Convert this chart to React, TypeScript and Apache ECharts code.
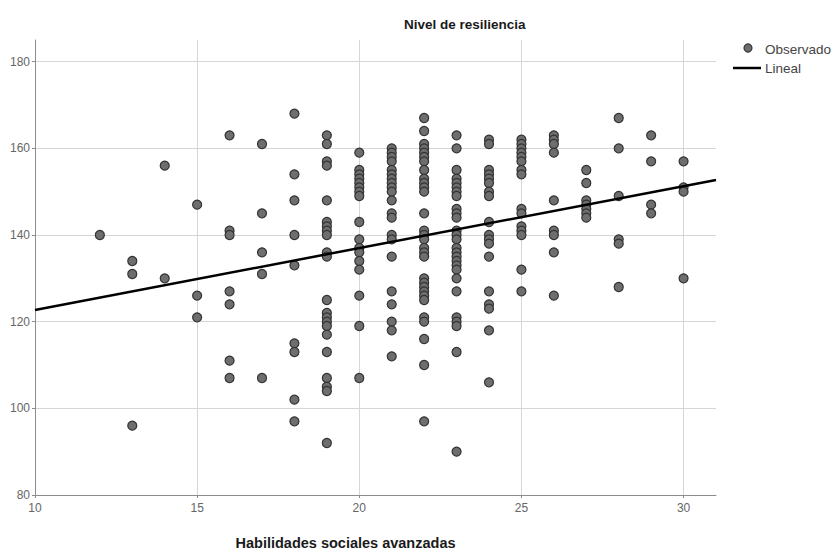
import React, { useEffect, useRef } from "react";
import * as echarts from "echarts";

const chartTitle = "Nivel de resiliencia";
const xAxisTitle = "Habilidades sociales avanzadas";
const legendNames = ["Observado", "Lineal"];

const xRange = [10, 31];
const yRange = [80, 185];
const xStep = 5;
const yStep = 20;

// Habilidades sociales avanzadas (x) and the observed resilience values at each x
const xValues = [12, 13, 14, 15, 16, 17, 18, 19, 20, 21, 22, 23, 24, 25, 26, 27, 28, 29, 30];
const y12 = [140];
const y13 = [134, 131, 96];
const y14 = [156, 130];
const y15 = [147, 126, 121];
const y16 = [163, 141, 140, 127, 124, 111, 107];
const y17 = [161, 145, 136, 131, 107];
const y18 = [168, 154, 148, 140, 133, 115, 113, 102, 97];
const y19 = [163, 161, 157, 156, 148, 143, 142, 141, 140, 136, 135, 125, 122, 121, 120, 119, 117, 113, 107, 105, 104, 92];
const y20 = [159, 155, 154, 153, 152, 151, 150, 149, 143, 139, 137, 136, 134, 132, 126, 119, 107];
const y21 = [160, 159, 158, 157, 155, 154, 153, 152, 151, 150, 148, 145, 144, 140, 139, 135, 127, 124, 120, 118, 112];
const y22 = [167, 164, 161, 160, 159, 158, 157, 155, 153, 152, 151, 150, 145, 141, 140, 139, 137, 136, 135, 130, 129, 128, 127, 126, 125, 121, 120, 116, 110, 97];
const y23 = [163, 160, 155, 153, 152, 151, 150, 149, 146, 145, 144, 141, 140, 139, 137, 136, 135, 134, 133, 132, 130, 127, 121, 120, 119, 113, 90];
const y24 = [162, 161, 155, 154, 153, 152, 150, 149, 143, 140, 139, 138, 135, 127, 124, 123, 118, 106];
const y25 = [162, 161, 160, 159, 158, 157, 155, 154, 146, 145, 142, 141, 140, 132, 127];
const y26 = [163, 162, 161, 159, 148, 141, 140, 136, 126];
const y27 = [155, 152, 148, 147, 146, 145, 144];
const y28 = [167, 160, 149, 139, 138, 128];
const y29 = [163, 157, 147, 145];
const y30 = [157, 151, 150, 130];
const observedByX = [y12, y13, y14, y15, y16, y17, y18, y19, y20, y21, y22, y23, y24, y25, y26, y27, y28, y29, y30];

// Linear fit line, read at both ends of the x range
const fitX = [10, 31];
const fitY = [122.7, 152.7];

export default function App() {
  const ref = useRef<HTMLDivElement>(null);

  useEffect(() => {
    document.body.style.margin = "0";
    if (!ref.current) return;
    const chart = echarts.init(ref.current, null, { renderer: "svg" });

    const scatterData: number[][] = [];
    xValues.forEach((x, i) => {
      observedByX[i].forEach((y) => scatterData.push([x, y]));
    });
    const lineData = fitX.map((x, i) => [x, fitY[i]]);

    const font = "'Liberation Sans', Arial, sans-serif";
    const gridColor = "#d6d6d6";
    const axisColor = "#8c8c8c";

    chart.setOption({
      animation: false,
      backgroundColor: "#ffffff",
      title: {
        text: chartTitle,
        left: 404,
        top: 17,
        padding: 0,
        textStyle: { fontFamily: font, fontSize: 13.5, fontWeight: "bold", color: "#1a1a1a" },
      },
      grid: { left: 35, right: 119, top: 40, bottom: 55, containLabel: false, outerBoundsMode: "none" },
      xAxis: {
        type: "value",
        min: xRange[0],
        max: xRange[1],
        interval: xStep,
        name: xAxisTitle,
        nameLocation: "middle",
        nameGap: 40,
        nameTextStyle: {
          fontFamily: font,
          fontSize: 14.5,
          fontWeight: "bold",
          color: "#1a1a1a",
          padding: [0, 60, 0, 0],
        },
        axisLine: { show: true, onZero: false, lineStyle: { color: axisColor, width: 1 } },
        axisTick: { show: true, length: 3, lineStyle: { color: axisColor } },
        axisLabel: {
          fontFamily: font,
          fontSize: 12,
          color: "#666",
          margin: 7,
          showMaxLabel: false,
          formatter: (v: number) => (v % xStep === 0 ? String(v) : ""),
        },
        splitLine: { show: true, showMinLine: false, showMaxLine: false, lineStyle: { color: gridColor, width: 1 } },
      },
      yAxis: {
        type: "value",
        min: yRange[0],
        max: yRange[1],
        interval: yStep,
        axisLine: { show: true, onZero: false, lineStyle: { color: axisColor, width: 1 } },
        axisTick: { show: true, length: 3, lineStyle: { color: axisColor } },
        axisLabel: {
          fontFamily: font,
          fontSize: 12,
          color: "#666",
          margin: 5,
          showMaxLabel: false,
          formatter: (v: number) => (v % yStep === 0 ? String(v) : ""),
        },
        splitLine: { show: true, showMinLine: false, showMaxLine: false, lineStyle: { color: gridColor, width: 1 } },
      },
      series: [
        {
          name: legendNames[0],
          type: "scatter",
          data: scatterData,
          symbol: "circle",
          symbolSize: 9,
          itemStyle: { color: "#6e6e6e", borderColor: "#333333", borderWidth: 1.2, opacity: 1 },
          z: 2,
        },
        {
          name: legendNames[1],
          type: "line",
          data: lineData,
          showSymbol: false,
          symbol: "none",
          lineStyle: { color: "#000000", width: 2.5 },
          z: 3,
        },
      ],
      graphic: [
        {
          type: "circle",
          shape: { cx: 748, cy: 48, r: 4 },
          style: { fill: "#6e6e6e", stroke: "#333333", lineWidth: 1.2 },
        },
        {
          type: "text",
          x: 765,
          y: 49,
          style: {
            text: legendNames[0],
            fontFamily: font,
            fontSize: 13.5,
            fill: "#444",
            verticalAlign: "middle",
          },
        },
        {
          type: "line",
          shape: { x1: 733, y1: 68, x2: 761, y2: 68 },
          style: { stroke: "#000", lineWidth: 2.5 },
        },
        {
          type: "text",
          x: 765,
          y: 68,
          style: {
            text: legendNames[1],
            fontFamily: font,
            fontSize: 13.5,
            fill: "#444",
            verticalAlign: "middle",
          },
        },
      ],
    });

    return () => chart.dispose();
  }, []);

  return <div ref={ref} style={{ width: 835, height: 550 }} />;
}
